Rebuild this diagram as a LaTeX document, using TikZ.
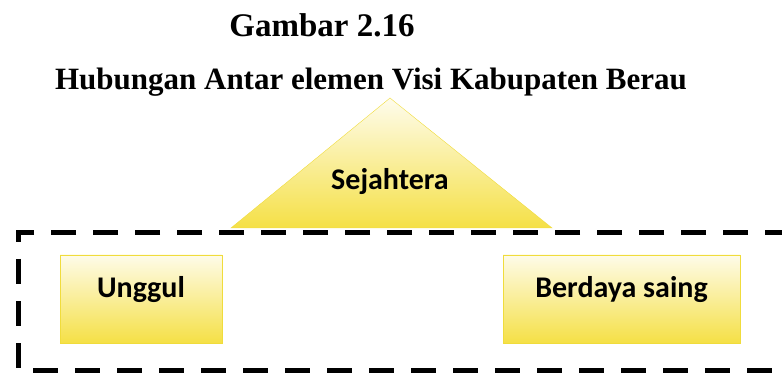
\documentclass[tikz,border=0pt]{standalone}
\usepackage{fontspec}
\setmainfont{Liberation Serif}
\newfontfamily\kotakfont{Carlito}
\definecolor{kuning}{RGB}{245,224,70}
\definecolor{garis}{RGB}{240,220,60}
\tikzset{
  judul/.style={font=\bfseries\fontsize{33}{36}\selectfont, anchor=base},
  unsur/.style={draw=garis, top color=kuning!12, bottom color=kuning, inner sep=0pt,
    minimum height=88pt, text height=22pt, text depth=26pt,
    font=\kotakfont\bfseries\fontsize{30}{32}\selectfont},
  putus/.style={line width=5pt, dash pattern=on 25pt off 17pt}
}
\begin{document}
\begin{tikzpicture}[x=1pt,y=-1pt]
  \useasboundingbox (0,0) rectangle (782,374);
  \node[judul] (gambar) at (322,37) {Gambar 2.16};
  \node[judul, font=\bfseries\fontsize{31}{34}\selectfont] (hubungan) at (371,90) {Hubungan Antar elemen Visi Kabupaten Berau};
  % segitiga
  \coordinate (puncak) at (390,98);
  \coordinate (kiri) at (231,228);
  \coordinate (kanan) at (552,228);
  \shade[top color=kuning!10, bottom color=kuning] (puncak) -- (kiri) -- (kanan) -- cycle;
  \draw[garis, thin] (puncak) -- (kiri) -- (kanan) -- cycle;
  \node[font=\kotakfont\bfseries\fontsize{30}{32}\selectfont, anchor=base] (sejahtera) at (390,190) {Sejahtera};
  % bingkai putus-putus
  \coordinate (ka) at (790,233);
  \coordinate (ki) at (18,233);
  \coordinate (kb) at (18,370);
  \coordinate (kab) at (790,370);
  \draw[putus] (ka) -- (ki) -- (kb) -- (kab);
  \node[unsur, minimum width=162pt] (unggul) at (141,299) {Unggul};
  \node[unsur, minimum width=237pt] (saing) at (621.5,299) {Berdaya saing};
\end{tikzpicture}
\end{document}
